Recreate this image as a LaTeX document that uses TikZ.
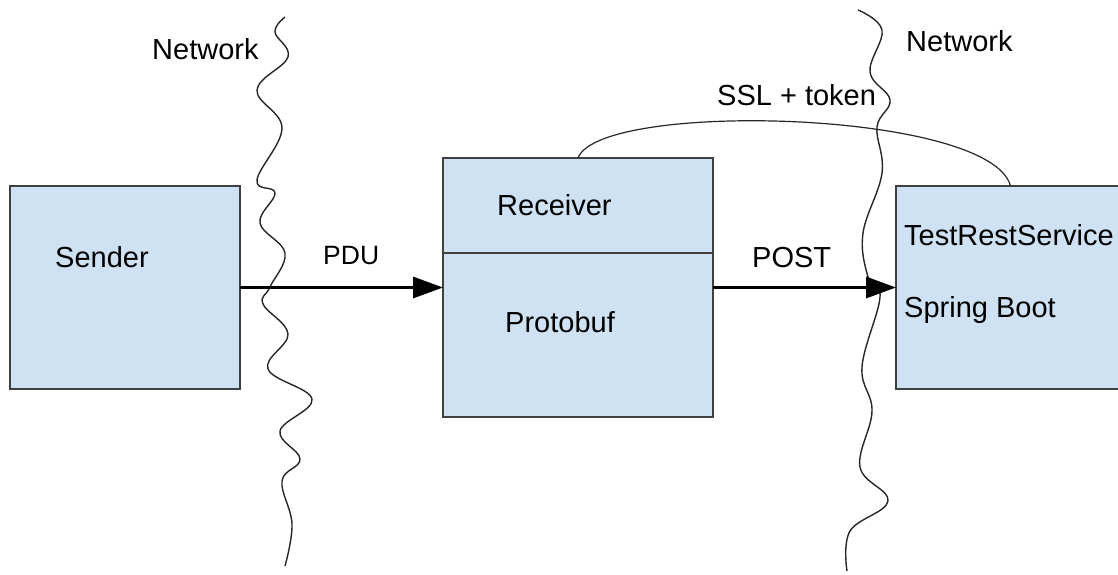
\documentclass[tikz,border=0pt]{standalone}
\usepackage{fontspec}
\setmainfont{Liberation Sans}
\usetikzlibrary{arrows.meta}
\definecolor{boxfill}{HTML}{CFE2F3}
\definecolor{boxline}{HTML}{404040}
\begin{document}
\begin{tikzpicture}[x=1pt,y=-1pt,
  box/.style={draw=boxline,line width=1.4pt,fill=boxfill,rectangle,inner sep=0pt,outer sep=0pt},
  lbl/.style={anchor=base west,inner sep=0pt,font=\fontsize{29}{34}\selectfont},
  flow/.style={line width=3.2pt,-{Triangle[length=30pt,width=21pt]}},
  wave/.style={line width=1.4pt,color=black!85},
  link/.style={line width=1.2pt,color=black!85}]
\useasboundingbox (0,0) rectangle (1118,574);
% boxes
\node[box,minimum width=230pt,minimum height=203pt] (sender) at (125,287.5) {};
\node[box,minimum width=270pt,minimum height=95pt] (recvtop) at (578,205.5) {};
\node[box,minimum width=270pt,minimum height=164pt] (recvbot) at (578,335) {};
\node[box,minimum width=229pt,minimum height=203pt] (testrest) at (1010.5,287.5) {};
% wavy lines
\draw[wave] plot[smooth,tension=0.65] coordinates {(285,17) (275,32) (288,57) (257,90) (282,128) (257,180) (275,193) (260,223) (285,253) (270,287) (263,304) (288,334) (268,369) (312,399) (280,431) (300,459) (282,481) (292,524) (285,566)};
\draw[wave] plot[smooth,tension=0.65] coordinates {(858,10) (882,30) (870,72) (890,100) (877,127) (882,173) (863,233) (868,277) (880,297) (862,367) (872,411) (860,467) (888,501) (850,531) (847,571)};
% connectors
\draw[flow] (sender.east) -- (sender.east -| recvbot.west);
\draw[flow] (testrest.west -| recvbot.east) -- (testrest.west);
\draw[link] (recvtop.north) .. controls +(22,-58) and +(-20,-76) .. (testrest.north);
% labels
\node[lbl] (netl) at (152,59) {Network};
\node[lbl] (netr) at (906,51) {Network};
\node[lbl] (ssl) at (717,105) {SSL + token};
\node[lbl] (sendt) at (55,267) {Sender};
\node[lbl,font=\fontsize{26.5}{32}\selectfont] (pdu) at (323,264) {PDU};
\node[lbl] (recvt) at (497,215) {Receiver};
\node[lbl] (proto) at (505,332) {Protobuf};
\node[lbl] (post) at (752,267) {POST};
\node[lbl] (trs) at (904,245) {TestRestService};
\node[lbl] (spring) at (904,317) {Spring Boot};
\end{tikzpicture}
\end{document}
